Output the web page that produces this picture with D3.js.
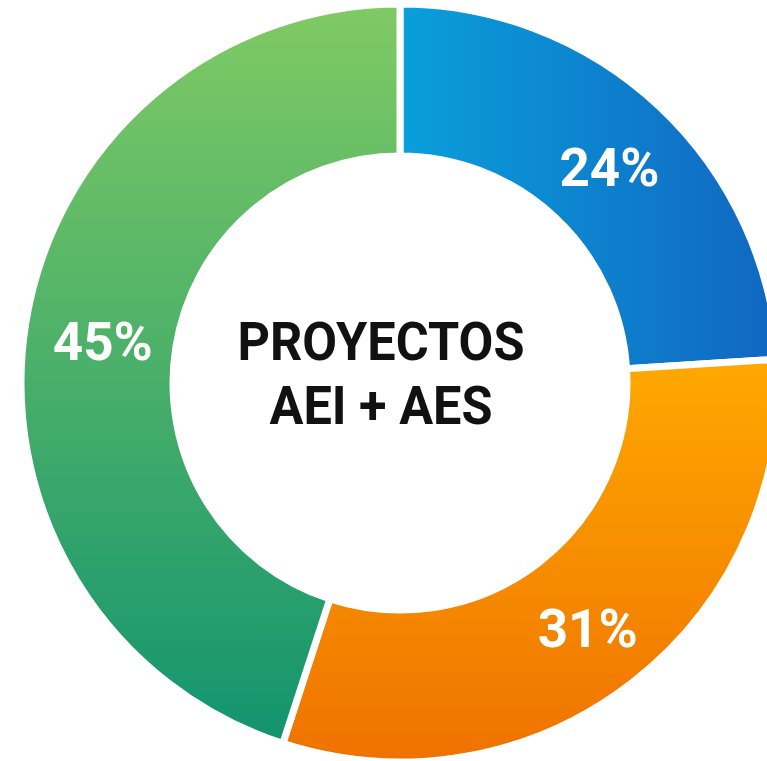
<!DOCTYPE html>
<html>
<head>
<meta charset="utf-8">
<script src="https://cdn.jsdelivr.net/npm/d3@7"></script>
<style>
  html, body { margin: 0; padding: 0; background: #fff; overflow: hidden; }
</style>
</head>
<body>
<div id="chart"></div>
<script>
// data
const categories = ['AEI', 'AES-A', 'AES-B'];
const values = [24, 31, 45];
const labels = ['24%', '31%', '45%'];
const titleLines = ['PROYECTOS', 'AEI + AES'];

// gradient stops per slice
const gradients = [
  { from: '#099fdb', to: '#1166c1', x2: '100%', y2: '0%' },
  { from: '#ffa800', to: '#ef7200', x2: '0%', y2: '100%' },
  { from: '#80ca64', to: '#12946f', x2: '0%', y2: '100%' }
];

const width = 767,
  height = 761,
  cx = 400,
  cy = 383,
  outerR = 379,
  innerR = 227;

const svg = d3.select('#chart')
  .append('svg')
  .attr('width', width)
  .attr('height', height);

const defs = svg.append('defs');
gradients.forEach(function (g, i) {
  const lg = defs.append('linearGradient')
    .attr('id', 'grad' + i)
    .attr('x1', '0%').attr('y1', '0%')
    .attr('x2', g.x2).attr('y2', g.y2);
  lg.append('stop').attr('offset', '0%').attr('stop-color', g.from);
  lg.append('stop').attr('offset', '100%').attr('stop-color', g.to);
});

const pie = d3.pie().sort(null).value(function (d) { return d; });
const arc = d3.arc().innerRadius(innerR).outerRadius(outerR);
const labelArc = d3.arc().innerRadius(303).outerRadius(303);

const g = svg.append('g').attr('transform', 'translate(' + cx + ',' + cy + ')');

const arcs = pie(values);

g.selectAll('path.slice')
  .data(arcs)
  .enter()
  .append('path')
  .attr('class', 'slice')
  .attr('d', arc)
  .attr('fill', function (d, i) { return 'url(#grad' + i + ')'; })
  .attr('stroke', '#fff')
  .attr('stroke-width', 7);

g.selectAll('text.pct')
  .data(arcs)
  .enter()
  .append('text')
  .attr('class', 'pct')
  .attr('transform', function (d) {
    const c = labelArc.centroid(d);
    return 'translate(' + (c[0] + 2) + ',' + (c[1] + 5) + ')';
  })
  .attr('text-anchor', 'middle')
  .attr('dy', '0.36em')
  .style('font-family', 'Roboto, "Noto Sans", sans-serif')
  .style('font-weight', 700)
  .style('font-size', '53px')
  .style('fill', '#fff')
  .text(function (d, i) { return labels[i]; });

const titleWidths = [287, 223];

g.selectAll('text.title')
  .data(titleLines)
  .enter()
  .append('text')
  .attr('class', 'title')
  .attr('x', -19)
  .attr('y', function (d, i) { return -23 + i * 64; })
  .attr('text-anchor', 'middle')
  .attr('textLength', function (d, i) { return titleWidths[i]; })
  .attr('lengthAdjust', 'spacingAndGlyphs')
  .style('font-family', 'Roboto, "Noto Sans", sans-serif')
  .style('font-weight', 700)
  .style('font-size', '54px')
  .style('fill', '#111')
  .text(function (d) { return d; });
</script>
</body>
</html>
